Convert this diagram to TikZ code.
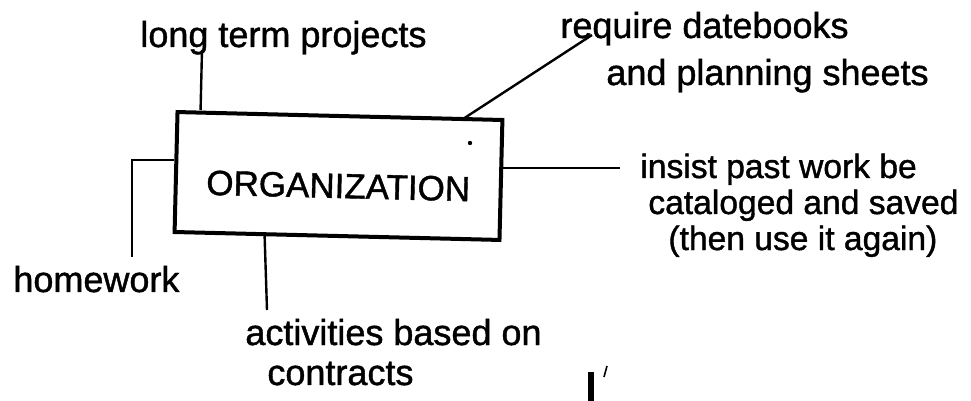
\documentclass[tikz,border=0pt]{standalone}
\usepackage{fontspec}
\setmainfont{Liberation Sans}[FakeBold=1.2]
\usetikzlibrary{positioning}

\tikzset{
  orgbox/.style={draw, line width=2pt, minimum width=162.5pt, minimum height=60pt,
    inner sep=0pt, text height=22pt, text depth=0pt,
    font=\fontsize{17.5pt}{18pt}\selectfont},
  lbl/.style={anchor=base west, inner sep=0pt, align=left,
    font=\fontsize{18pt}{18pt}\selectfont},
  link/.style={line width=1.2pt},
}

\begin{document}
\begin{tikzpicture}[x=0.5pt, y=-0.5pt]
    \useasboundingbox (0,0) rectangle (971,401);
    % Box
    \node[orgbox, rotate=-1.4] (org) at (338.5,176) {ORGANIZATION};
    % Labels (anchored on the baseline of the last line)
    \node[lbl] (longterm) at (140,47) {long term projects};
    \node[lbl] (datebooks) at (560,85) {require datebooks\\[5.5pt]\hspace*{23pt}and planning sheets};
    \node[lbl, font=\fontsize{16.8pt}{18pt}\selectfont] (pastwork) at (640,250)
      {insist past work be\\\hspace*{4pt}cataloged and saved\\\hspace*{14pt}(then use it again)};
    \node[lbl] (homework) at (13,292) {homework};
    \node[lbl] (contracts) at (245,385) {activities based on\\[2pt]\hspace*{11pt}contracts};
    % Line ends
    \coordinate (longend) at (202,50);
    \coordinate (dateend) at (592,35);
    \coordinate (pastend) at (620,168);
    \coordinate (homeend) at (132,257);
    \coordinate (contrend) at (267,310);
    % Links
    \draw[link] ([xshift=12.5pt]org.north west) -- (longend);
    \draw[link] ([xshift=-20pt]org.north east) -- (dateend);
    \draw[link] (org.east |- pastend) -- (pastend);
    \draw[link] ([yshift=6pt]org.west) -| (homeend);
    \draw[link] ([xshift=46pt]org.south west) -- (contrend);
    % Specks of the scan
    \fill (470,143) circle (1.1pt);
    \draw[line width=3pt] (591,372) -- (591,401);
    \draw[line width=0.8pt] (607,366) -- (604,377);
\end{tikzpicture}
\end{document}
